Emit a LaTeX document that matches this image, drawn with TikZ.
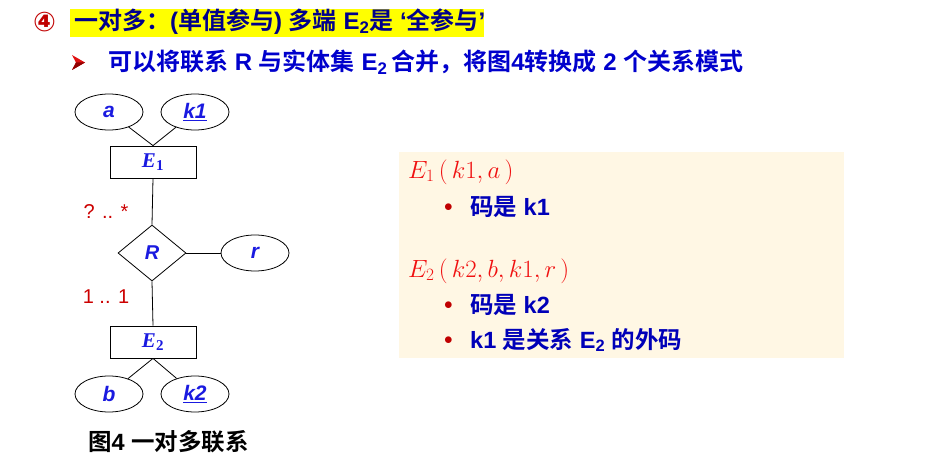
\documentclass[tikz,border=0pt]{standalone}
\usepackage{fontspec}
\setmainfont{Liberation Sans}
\newfontfamily\cjk{Noto Sans CJK SC}[BoldFont={Noto Sans CJK SC Bold}]
\newfontfamily\dvs{DejaVu Sans}
\newfontfamily\serif{Liberation Serif}
\usetikzlibrary{shapes.geometric}
\definecolor{navy}{HTML}{00008C}
\definecolor{lineblue}{HTML}{0000CC}
\definecolor{erblue}{HTML}{1A1AE0}
\definecolor{darkred}{HTML}{C00000}
\definecolor{cardred}{HTML}{CC0000}
\definecolor{arrowred}{HTML}{E01010}
\definecolor{arrowdark}{HTML}{900000}
\definecolor{panelbg}{HTML}{FFF7E4}
\definecolor{panelred}{HTML}{F01010}
\definecolor{panelblue}{HTML}{0000B8}
\definecolor{hl}{HTML}{FFFF00}
\newcommand{\zh}[1]{{\cjk #1}}
\newcommand{\sz}[1]{\fontsize{#1}{#1}\selectfont}
\newcommand{\entlabel}[1]{{\itshape E}\textsubscript{\upshape\fontsize{15}{15}\selectfont #1}}
\tikzset{
  attr/.style={draw=black, line width=0.8pt, shape=ellipse, minimum width=68pt, minimum height=36pt, inner sep=0pt, font=\sz{21}\bfseries\itshape, text=erblue},
  ent/.style={draw=black, line width=0.8pt, shape=rectangle, minimum width=86pt, minimum height=32pt, inner sep=0pt, text=erblue, font=\serif\sz{21}\bfseries},
  rel/.style={draw=black, line width=0.8pt, shape=diamond, minimum width=68pt, minimum height=56pt, aspect=1.2, inner sep=0pt, font=\sz{20}\bfseries\itshape, text=erblue},
  link/.style={draw=black, line width=0.8pt},
  card/.style={text=cardred, font=\sz{20}, inner sep=0pt},
  txt/.style={anchor=west, inner sep=0pt},
  panelmath/.style={txt, text=panelred, font=\sz{24}},
  bul/.style={txt, text=darkred, font=\sz{16}},
  paneltxt/.style={txt, text=panelblue, font=\bfseries\sz{23.5}},
}
\begin{document}
\begin{tikzpicture}[x=1pt,y=-1pt]
\useasboundingbox (0,0) rectangle (938,460);
% title
\fill[hl] (70,9) rectangle (484,37);
\node[txt, text=darkred, font=\dvs\bfseries\sz{27}] (num) at (33,22) {④};
\node[txt, text=navy, font=\bfseries\sz{24}] (title) at (74,22)
  {\zh{一对多：}(\zh{单值参与})~\zh{多端}~E\textsubscript{2}\zh{是}~‘\zh{全参与}’};
% bullet arrow
\fill[arrowred] (72,55) -- (85,62.5) -- (72,70) -- (76,62.5) -- cycle;
\fill[arrowdark] (76,62.5) -- (85,62.5) -- (72,70) -- cycle;
\node[txt, text=lineblue, font=\bfseries\sz{24}] (sub) at (108,62)
  {\zh{可以将联系}~R~\zh{与实体集}~E\textsubscript{2}\,\zh{合并，将图}4\zh{转换成}~2~\zh{个关系模式}};
% ER diagram
\node[attr] (a) at (109,112) {a};
\node[attr] (k1) at (195,112) {\underline{k1}};
\node[ent] (E1) at (153,162) {\entlabel{1}};
\node[rel] (R) at (152,253) {R};
\node[attr] (r) at (255,253) {r};
\node[ent] (E2) at (153,342) {\entlabel{2}};
\node[attr] (b) at (109,394) {b};
\node[attr] (k2) at (195,394) {\underline{k2}};
\draw[link] (E1.north) -- (a);
\draw[link] (E1.north) -- (k1);
\draw[link] (E1.south) -- (R.north);
\draw[link] (R.east) -- (r);
\draw[link] (R.south) -- (E2.north);
\draw[link] (E2.south) -- (b);
\draw[link] (E2.south) -- (k2);
\node[card] (c1) at (106,212) {? .. *};
\node[card] (c2) at (106,297) {1 .. 1};
\node[txt, font=\bfseries\sz{23.5}] (cap) at (88,442) {\zh{图}4~\zh{一对多联系}};
% panel
\fill[panelbg] (399,152) rectangle (844,358);
\node[panelmath] (m1) at (408,172) {$E_1\,(\,k1, a\,)$};
\node[bul] (b1) at (444,208) {$\bullet$};
\node[paneltxt] (t1) at (470,207) {\zh{码是}~k1};
\node[panelmath] (m2) at (408,271) {$E_2\,(\,k2, b, k1, r\,)$};
\node[bul] (b2) at (444,306) {$\bullet$};
\node[paneltxt] (t2) at (470,305) {\zh{码是}~k2};
\node[bul] (b3) at (444,341) {$\bullet$};
\node[paneltxt] (t3) at (470,340) {k1~\zh{是关系}~E\textsubscript{2}~\zh{的外码}};
\end{tikzpicture}
\end{document}
